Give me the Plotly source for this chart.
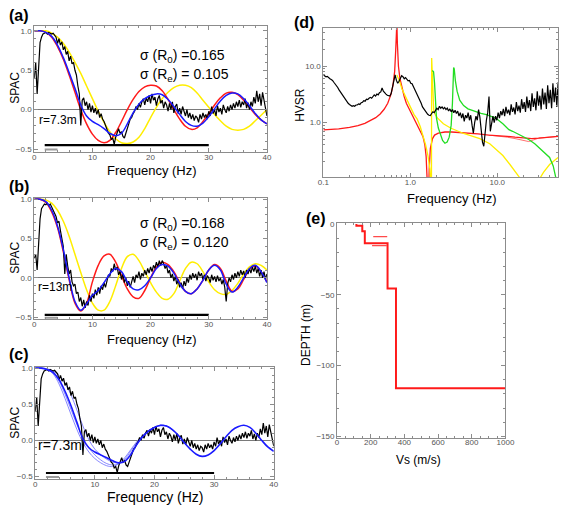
import numpy as np
import plotly.graph_objects as go

W, H = 568, 508
FONT = "Liberation Sans, Arial, sans-serif"
NARROW = "Liberation Sans Narrow, Arial Narrow, Liberation Sans, sans-serif"

# ---------------- SPAC data (panels a, b, c) ----------------
freq_model = list(range(0, 41))  # Hz

spac_a_red = [1.0, 1.0, 0.98, 0.92, 0.8, 0.64, 0.44, 0.22, 0.0, -0.18, -0.31, -0.39, -0.42, -0.39, -0.29,
              -0.15, 0.0, 0.13, 0.23, 0.29, 0.31, 0.3, 0.24, 0.13, 0.0, -0.12, -0.21, -0.25, -0.23, -0.15,
              -0.05, 0.06, 0.15, 0.21, 0.22, 0.19, 0.12, 0.03, -0.06, -0.13, -0.18]
spac_a_blue = [1.0, 1.0, 0.98, 0.93, 0.82, 0.66, 0.47, 0.27, 0.06, -0.08, -0.15, -0.19, -0.24, -0.3, -0.33,
               -0.3, -0.18, -0.04, 0.07, 0.14, 0.18, 0.2, 0.19, 0.13, 0.04, -0.06, -0.15, -0.2, -0.21, -0.17,
               -0.09, 0.01, 0.11, 0.18, 0.21, 0.2, 0.14, 0.05, -0.05, -0.13, -0.18]
spac_a_yellow = [1.0, 1.0, 1.0, 0.97, 0.92, 0.84, 0.73, 0.6, 0.46, 0.3, 0.14, -0.02, -0.16, -0.28, -0.37,
                 -0.42, -0.43, -0.41, -0.35, -0.24, -0.1, 0.03, 0.14, 0.22, 0.28, 0.31, 0.31, 0.28, 0.21, 0.12,
                 0.03, -0.06, -0.14, -0.21, -0.25, -0.26, -0.25, -0.21, -0.14, -0.07, 0.0]

spac_b_red = [1.0, 1.0, 0.96, 0.84, 0.64, 0.33, -0.02, -0.32, -0.42, -0.32, -0.05, 0.16, 0.28, 0.3, 0.2,
              0.03, -0.14, -0.24, -0.26, -0.16, 0.0, 0.14, 0.2, 0.17, 0.08, -0.06, -0.17, -0.2, -0.14, -0.03,
              0.1, 0.17, 0.12, -0.04, -0.17, -0.14, -0.02, 0.11, 0.15, 0.08, -0.05]
spac_b_blue = [1.0, 1.0, 0.97, 0.86, 0.66, 0.36, 0.0, -0.3, -0.41, -0.33, -0.22, -0.16, -0.06, 0.05, 0.12,
               0.08, -0.05, -0.14, -0.15, -0.1, 0.0, 0.12, 0.17, 0.15, 0.06, -0.07, -0.17, -0.2, -0.14, -0.03,
               0.1, 0.16, 0.1, -0.08, -0.18, -0.12, 0.0, 0.12, 0.16, 0.08, -0.06]
spac_b_yellow = [1.0, 1.0, 0.99, 0.95, 0.86, 0.72, 0.53, 0.3, 0.07, -0.15, -0.32, -0.41, -0.41, -0.3, -0.1,
                 0.12, 0.27, 0.3, 0.22, 0.08, -0.06, -0.18, -0.26, -0.27, -0.2, -0.04, 0.12, 0.2, 0.18, 0.08,
                 -0.05, -0.15, -0.2, -0.21, -0.16, -0.07, 0.05, 0.14, 0.18, 0.16, 0.1]

spac_c_blue = [1.0, 1.0, 0.98, 0.94, 0.84, 0.68, 0.48, 0.25, 0.02, -0.1, -0.16, -0.2, -0.24, -0.28, -0.31,
               -0.29, -0.2, -0.06, 0.05, 0.13, 0.18, 0.21, 0.2, 0.15, 0.07, -0.03, -0.12, -0.19, -0.22, -0.2,
               -0.14, -0.05, 0.05, 0.14, 0.19, 0.21, 0.18, 0.1, 0.0, -0.09, -0.15]
freq_thin = list(range(0, 25))
spac_c_thin1 = [1.0, 1.0, 0.99, 0.96, 0.9, 0.79, 0.63, 0.42, 0.2, 0.01, -0.12, -0.2, -0.26, -0.3, -0.31,
                -0.28, -0.18, -0.06, 0.05, 0.13, 0.18, 0.21, 0.2, 0.15, 0.07]
spac_c_thin2 = [1.0, 1.0, 0.98, 0.92, 0.78, 0.58, 0.36, 0.15, -0.03, -0.16, -0.25, -0.31, -0.35, -0.36, -0.32,
                -0.24, -0.13, -0.02, 0.07, 0.14, 0.18, 0.21, 0.2, 0.15, 0.07]
spac_c_thin3 = [1.0, 1.0, 0.98, 0.93, 0.82, 0.64, 0.43, 0.22, 0.04, -0.1, -0.2, -0.27, -0.32, -0.34, -0.32,
                -0.26, -0.15, -0.03, 0.06, 0.13, 0.18, 0.2, 0.2, 0.15, 0.07]

# observed SPAC, 0.25 Hz sampling from 0 Hz
spac_obs_r73 = [0.4, 0.6, 0.2, 0.6, 0.85, 0.92, 0.96, 0.97, 0.98, 0.96, 0.98, 0.97, 0.96, 0.97, 0.94, 0.92,
                0.84, 0.9, 0.82, 0.86, 0.76, 0.8, 0.7, 0.74, 0.62, 0.68, 0.58, 0.6, 0.5, 0.44, 0.3, 0.2,
                -0.2, 0.12, 0.15, 0.05, 0.1, 0.0, 0.08, -0.03, 0.05, -0.04, 0.02, -0.06, 0.0, -0.1, -0.05, -0.12,
                -0.15, -0.2, -0.25, -0.3, -0.32, -0.38, -0.36, -0.44, -0.35, -0.3, -0.24, -0.3, -0.28, -0.34, -0.36, -0.3,
                -0.22, -0.18, -0.12, -0.1, -0.05, -0.02, 0.04, 0.0, 0.08, 0.03, 0.1, 0.14, 0.06, 0.15, 0.1, 0.18,
                0.08, 0.2, 0.12, 0.16, 0.05, 0.14, 0.18, 0.08, 0.12, 0.02, 0.1, 0.06, -0.02, 0.08, 0.0, 0.1,
                -0.04, 0.04, 0.07, -0.05, 0.02, -0.06, 0.04, -0.03, -0.08, 0.0, -0.1, -0.04, -0.12, -0.06, -0.14, -0.08,
                -0.1, -0.16, -0.06, -0.12, -0.04, -0.1, -0.06, -0.12, -0.02, -0.08, 0.04, -0.05, 0.0, -0.08, 0.05, -0.03,
                0.02, -0.06, 0.06, 0.0, -0.04, 0.04, -0.02, 0.06, 0.0, 0.08, 0.02, 0.1, 0.04, 0.12, 0.03, 0.1,
                0.06, 0.14, 0.02, 0.09, 0.0, 0.1, 0.04, 0.16, 0.08, 0.24, 0.1, 0.2, 0.05, 0.22, 0.12, 0.02,
                -0.08]
spac_obs_r13 = [0.25, 0.3, 0.1, 0.45, 0.75, 0.88, 0.92, 0.94, 0.93, 0.95, 0.92, 0.94, 0.9, 0.86, 0.82, 0.78,
                0.7, 0.72, 0.6, 0.52, 0.4, 0.05, 0.3, 0.15, 0.05, 0.1, -0.05, -0.1, -0.08, -0.2, -0.18, -0.3,
                -0.25, -0.36, -0.28, -0.38, -0.3, -0.35, -0.22, -0.3, -0.2, -0.26, -0.15, -0.22, -0.12, -0.2, -0.1, -0.15,
                -0.06, -0.12, -0.02, 0.04, 0.02, 0.12, 0.08, 0.18, 0.1, 0.14, 0.04, 0.08, -0.02, 0.05, -0.06, 0.0,
                -0.1, -0.04, -0.12, -0.05, 0.02, -0.06, 0.04, 0.0, 0.08, -0.02, 0.06, 0.02, 0.1, 0.04, 0.12, 0.06,
                0.14, 0.08, 0.16, 0.12, 0.2, 0.14, 0.22, 0.16, 0.22, 0.18, 0.12, 0.16, 0.06, 0.1, 0.0, 0.05,
                -0.04, 0.02, -0.08, -0.02, -0.12, -0.06, -0.14, -0.04, -0.1, 0.0, -0.06, 0.04, -0.02, 0.06, 0.0, 0.05,
                -0.03, 0.08, 0.02, 0.06, -0.02, 0.04, -0.04, 0.03, 0.0, -0.06, 0.04, -0.03, 0.02, -0.05, 0.03, -0.04,
                0.0, -0.08, -0.02, -0.12, -0.3, -0.08, 0.0, -0.05, 0.04, -0.02, 0.06, 0.0, 0.08, 0.02, 0.1, 0.04,
                0.09, 0.0, 0.1, 0.05, 0.12, 0.06, 0.14, 0.08, 0.15, 0.06, 0.12, 0.02, 0.1, 0.0, 0.08, -0.02,
                0.05]
freq_obs_step = 0.25

fit_band = [1.8, 30.0]
bar_level_ac = -0.45
bar_level_b = -0.47
hv_band = [1.8, 4.0]
hv_band_level = -0.505

# ---------------- HVSR data (panel d) ----------------
hv_logf_lo, hv_logf_hi = -1.0, 1.7
hvsr_obs = [7.0, 6.8, 6.5, 6.6, 6.2, 6.0, 5.8, 5.6, 5.2, 4.9,
            4.5, 4.2, 3.8, 3.5, 3.2, 2.9, 2.7, 2.5, 2.35, 2.2,
            2.1, 2.0, 1.95, 2.0, 1.95, 2.05, 2.05, 2.15, 2.1, 2.25,
            2.3, 2.45, 2.4, 2.6, 2.55, 2.7, 2.8, 2.7, 2.95, 3.1,
            2.95, 3.2, 3.1, 3.4, 3.5, 4.1, 3.6, 3.3, 3.2, 3.05,
            3.0, 2.95, 3.3, 4.4, 6.0, 7.0, 5.6, 5.0, 5.4, 6.2,
            6.8, 6.5, 6.0, 6.3, 5.8, 5.5, 5.6, 5.0, 4.9, 4.4,
            4.0, 3.6, 3.2, 2.9, 2.5, 2.2, 1.9, 1.75, 1.6, 1.5,
            1.4, 1.35, 1.33, 1.45, 1.55, 1.5, 1.65, 1.8, 1.7, 1.95,
            1.8, 1.9, 1.75, 1.85, 1.7, 1.8, 1.6, 1.75, 1.55, 1.7,
            1.5, 1.65, 1.45, 1.6, 1.3, 1.5, 1.2, 1.45, 1.05, 1.35,
            1.2, 1.5, 1.1, 1.35, 0.9, 0.65, 1.0, 1.3, 1.1, 1.7,
            1.25, 0.7, 0.45, 0.38, 0.8, 1.1, 1.5, 2.9, 0.7, 0.9,
            1.3, 1.0, 1.3, 1.1, 1.5, 1.2, 1.6, 1.35, 1.75, 1.3,
            1.9, 1.45, 1.7, 1.35, 2.1, 1.55, 1.85, 1.4, 2.3, 1.6,
            2.0, 1.5, 2.6, 1.75, 2.3, 1.55, 2.9, 1.8, 2.5, 1.6,
            3.3, 1.9, 2.7, 1.65, 3.6, 2.0, 3.0, 1.7, 4.0, 2.1,
            3.4, 1.75, 4.6, 2.2, 3.8, 1.8, 5.0, 2.3, 4.2, 1.9,
            5.2]

hv_red_f = [0.1, 0.15, 0.2, 0.25, 0.3, 0.35, 0.4, 0.45, 0.5, 0.55, 0.6, 0.63, 0.66, 0.68, 0.69, 0.70, 0.71,
            0.73, 0.76, 0.8, 0.85, 0.9, 1.0, 1.1, 1.2, 1.3, 1.4, 1.47, 1.52, 1.56, 1.58, 1.62, 1.65, 1.7, 1.8,
            1.9, 2.1, 2.5, 3, 4, 5, 6, 8, 10, 13, 16, 20, 25, 30, 40, 50]
hv_red = [0.74, 0.77, 0.82, 0.88, 0.97, 1.08, 1.22, 1.42, 1.72, 2.2, 3.2, 4.5, 8, 20, 60, 60, 25,
          10, 6, 4.0, 2.9, 2.2, 1.6, 1.2, 0.95, 0.75, 0.56, 0.4, 0.25, 0.1, 0.05, 0.05, 0.15, 0.35, 0.52,
          0.6, 0.65, 0.68, 0.68, 0.66, 0.65, 0.63, 0.6, 0.59, 0.57, 0.55, 0.53, 0.52, 0.53, 0.55, 0.57]
hv_red2_f = [8, 10, 13, 16, 20, 23, 26, 30, 40, 50]
hv_red2 = [0.6, 0.58, 0.55, 0.52, 0.48, 0.46, 0.49, 0.53, 0.55, 0.57]
hv_yel_f = [0.7, 0.75, 0.8, 0.9, 1.0, 1.1, 1.2, 1.3, 1.4, 1.5, 1.6, 1.68, 1.72, 1.75, 1.76, 1.78, 1.82, 1.86,
            1.95, 2.06, 2.4, 2.9, 4.1, 6.3, 8.2, 11.6, 14, 17.8, 19, 22, 26, 30, 34, 40, 48, 50]
hv_yel = [7.0, 5.5, 4.0, 2.6, 1.9, 1.4, 1.15, 0.85, 0.6, 0.4, 0.25, 0.15, 0.08, 0.05, 14, 8, 3.5, 1.6,
          1.35, 1.2, 0.95, 0.8, 0.64, 0.52, 0.42, 0.26, 0.18, 0.11, 0.095, 0.06, 0.06, 0.095, 0.13, 0.18, 0.23, 0.24]
hv_grn_f = [1.79, 1.85, 1.9, 1.95, 2.0, 2.1, 2.2, 2.35, 2.5, 2.65, 2.8, 2.95, 3.05, 3.15, 3.2, 3.3, 3.45, 3.7,
            4.1, 4.6, 5.3, 6.5, 7.5, 9.6, 11.6, 13.6, 15, 19, 23, 27, 32, 36, 40, 44, 47, 50]
hv_grn = [8.4, 8.0, 5.0, 2.5, 1.2, 0.8, 0.62, 0.48, 0.43, 0.45, 0.55, 0.9, 2.2, 9.5, 9.0, 5.5, 3.6, 2.5,
          2.0, 1.75, 1.6, 1.45, 1.38, 1.2, 0.95, 0.75, 0.7, 0.58, 0.5, 0.42, 0.33, 0.28, 0.24, 0.17, 0.1, 0.07]

# ---------------- Vs profile (panel e) ----------------
vs_layers = [115, 150, 165, 300, 350, 1000]      # m/s
depth_tops = [0, 1.2, 5.0, 13.5, 45.5, 116.0]    # m
alt_depths = [8.9, 15.2]
alt_vs_lo = [215, 208]
alt_vs_hi = [298, 296]

# ---------------- colours ----------------
RED = "#ff1a1a"
BLUE = "#1a1aff"
YEL = "#ffee00"
GRN = "#22dd22"
THIN_BLUE = "#7a7aff"
AXC = "#8c8c8c"
TICKF = dict(size=8, color="#555555", family=FONT)


def dom_x(a, b):
    return [a / W, b / W]


def dom_y(top, bottom):
    return [1 - bottom / H, 1 - top / H]


fig = go.Figure()

freq_obs_a = [i * freq_obs_step for i in range(len(spac_obs_r73))]
freq_obs_b = [i * freq_obs_step for i in range(len(spac_obs_r13))]


def add_line(x, y, color, width, xa, ya, shape="linear"):
    fig.add_trace(go.Scatter(x=x, y=y, mode="lines", xaxis=xa, yaxis=ya, showlegend=False,
                             line=dict(color=color, width=width, shape=shape),
                             hoverinfo="skip"))


# panel a
add_line(freq_model, spac_a_yellow, YEL, 1.5, "x", "y", "spline")
add_line(freq_model, spac_a_red, RED, 1.5, "x", "y", "spline")
add_line(freq_obs_a, spac_obs_r73, "black", 1.2, "x", "y")
add_line(freq_model, spac_a_blue, BLUE, 1.5, "x", "y", "spline")
add_line(hv_band, [hv_band_level] * 2, "#9a9a9a", 2, "x", "y")
add_line(fit_band, [bar_level_ac] * 2, "black", 2.2, "x", "y")

# panel b
add_line(freq_model, spac_b_yellow, YEL, 1.5, "x2", "y2", "spline")
add_line(freq_model, spac_b_red, RED, 1.5, "x2", "y2", "spline")
add_line(freq_obs_b, spac_obs_r13, "black", 1.2, "x2", "y2")
add_line(freq_model, spac_b_blue, BLUE, 1.5, "x2", "y2", "spline")
add_line(hv_band, [hv_band_level] * 2, "#9a9a9a", 2, "x2", "y2")
add_line(fit_band, [bar_level_b] * 2, "black", 2.2, "x2", "y2")

# panel c
for th in (spac_c_thin1, spac_c_thin2, spac_c_thin3):
    add_line(freq_thin, th, THIN_BLUE, 0.9, "x3", "y3", "spline")
add_line(freq_obs_a, spac_obs_r73, "black", 1.2, "x3", "y3")
add_line(freq_model, spac_c_blue, BLUE, 1.6, "x3", "y3", "spline")
add_line(hv_band, [hv_band_level] * 2, "#9a9a9a", 2, "x3", "y3")
add_line(fit_band, [bar_level_ac] * 2, "black", 2.2, "x3", "y3")

# panel d
hv_freq = list(10 ** np.linspace(hv_logf_lo, hv_logf_hi, len(hvsr_obs)))
add_line(hv_red2_f, hv_red2, "#ff7070", 1.0, "x4", "y4")
add_line(hv_red_f, hv_red, RED, 1.3, "x4", "y4")
add_line(hv_yel_f, hv_yel, YEL, 1.3, "x4", "y4")
add_line(hv_grn_f, hv_grn, GRN, 1.3, "x4", "y4")
add_line(hv_freq, hvsr_obs, "black", 1.2, "x4", "y4")

# panel e
add_line(vs_layers, [-d for d in depth_tops], RED, 2.0, "x5", "y5", "vh")
for d, lo, hi in zip(alt_depths, alt_vs_lo, alt_vs_hi):
    add_line([lo, hi], [-d, -d], "#ff4a4a", 1.3, "x5", "y5")

base_ax = dict(showline=True, linecolor=AXC, linewidth=1, mirror="allticks", ticks="inside",
               ticklen=4, tickcolor=AXC, tickwidth=1, showgrid=False, zeroline=False, tickfont=TICKF)
xlab = dict(ticklabelstandoff=-3)
minor_f = dict(ticks="inside", ticklen=2, tickcolor=AXC, dtick=2, showgrid=False)
minor_s = dict(ticks="inside", ticklen=2, tickcolor=AXC, dtick=0.1, showgrid=False)
spac_y_ticks = dict(tickvals=[-0.5, 0, 0.5, 1.0], ticktext=["\u22120.5", "0.0", "0.5", "1.0"])
f_ticks = dict(tickvals=[0, 10, 20, 30, 40])
log_minor = [0.2, 0.3, 0.4, 0.5, 0.6, 0.7, 0.8, 0.9, 2, 3, 4, 5, 6, 7, 8, 9, 20, 30, 40]

layout = dict(
    width=W, height=H, margin=dict(l=0, r=0, t=0, b=0), paper_bgcolor="white", plot_bgcolor="white",
    font=dict(family=FONT, color="black"), showlegend=False,
    xaxis=dict(base_ax, domain=dom_x(29, 268), range=[0, 40], minor=minor_f, **f_ticks, **xlab),
    yaxis=dict(base_ax, domain=dom_y(23, 151), range=[-0.54, 1.065], minor=minor_s,
               zeroline=True, zerolinecolor="#7a7a7a", zerolinewidth=1, **spac_y_ticks),
    xaxis2=dict(base_ax, domain=dom_x(29, 268), range=[0, 40], minor=minor_f, anchor="y2", **f_ticks, **xlab),
    yaxis2=dict(base_ax, domain=dom_y(197, 320), range=[-0.525, 1.02], minor=minor_s, anchor="x2",
                zeroline=True, zerolinecolor="#7a7a7a", zerolinewidth=1, **spac_y_ticks),
    xaxis3=dict(base_ax, domain=dom_x(30, 275), range=[0, 40], minor=minor_f, anchor="y3", **f_ticks, **xlab),
    yaxis3=dict(base_ax, domain=dom_y(368, 482), range=[-0.537, 1.02], minor=minor_s, anchor="x3",
                zeroline=True, zerolinecolor="#7a7a7a", zerolinewidth=1, **spac_y_ticks),
    xaxis4=dict(base_ax, domain=dom_x(326, 567), type="log", range=[-1, 1.699], anchor="y4",
                tickvals=[0.1, 1, 10], ticktext=["0.1", "1.0", "10.0"], **xlab,
                minor=dict(ticks="inside", ticklen=2, tickcolor=AXC, showgrid=False, tickvals=log_minor)),
    yaxis4=dict(base_ax, domain=dom_y(25, 176), type="log", range=[-0.965, 1.684], anchor="x4",
                tickvals=[1, 10], ticktext=["1.0", "10.0"],
                minor=dict(ticks="inside", ticklen=2, tickcolor=AXC, showgrid=False, tickvals=log_minor)),
    xaxis5=dict(base_ax, domain=dom_x(340, 513), range=[0, 1000], anchor="y5",
                tickvals=[0, 200, 400, 600, 800, 1000], **xlab,
                minor=dict(ticks="inside", ticklen=2, tickcolor=AXC, dtick=50, showgrid=False)),
    yaxis5=dict(base_ax, domain=dom_y(223, 440), range=[-151, 0.5], anchor="x5",
                tickvals=[0, -50, -100, -150], ticktext=["0", "\u221250", "\u2212100", "\u2212150"],
                minor=dict(ticks="inside", ticklen=2, tickcolor=AXC, dtick=10, showgrid=False)),
)
fig.update_layout(**layout)


def ann(text, x, y, size, bold=False, xanchor="center", angle=0, color="black", family=FONT):
    if bold:
        text = "<b>" + text + "</b>"
    fig.add_annotation(text=text, x=x / W, y=1 - y / H, xref="paper", yref="paper", showarrow=False,
                       xanchor=xanchor, yanchor="middle", textangle=angle,
                       font=dict(size=size, color=color, family=family))


# panel labels
ann("(a)", 13, 13, 16, bold=True)
ann("(b)", 13, 186, 16, bold=True)
ann("(c)", 13, 356, 16, bold=True)
ann("(d)", 306, 20, 16, bold=True)
ann("(e)", 318, 218, 16, bold=True)

# sigma annotations
ann("\u03c3 (R<sub>0</sub>) =0.165", 136, 54, 14, xanchor="left", family=NARROW)
ann("\u03c3 (R<sub>e</sub>) = 0.105", 136, 73, 14, xanchor="left", family=NARROW)
ann("\u03c3 (R<sub>0</sub>) =0.168", 136, 224, 14, xanchor="left", family=NARROW)
ann("\u03c3 (R<sub>e</sub>) = 0.120", 136, 243, 14, xanchor="left", family=NARROW)

# radius labels
ann("r=7.3m", 32, 118, 12, xanchor="left")
ann("r=13m", 31, 287, 12, xanchor="left")
ann("r=7.3m", 31, 447, 14, xanchor="left")

# axis titles
ann("SPAC", 9, 86, 12, angle=-90)
ann("SPAC", 9, 258, 12, angle=-90)
ann("SPAC", 9, 425, 12, angle=-90)
ann("Frequency (Hz)", 150, 169, 13)
ann("Frequency (Hz)", 150, 341, 13)
ann("Frequency (Hz)", 153, 500, 14)
ann("HVSR", 302, 103, 12, angle=-90)
ann("Frequency (Hz)", 458, 198, 13)
ann("DEPTH (m)", 308, 336, 12, angle=-90)
ann("Vs (m/s)", 424, 462, 12)

fig.write_html("out.html", config={"displayModeBar": False},
               post_script="document.body.style.margin='0px';document.body.style.overflow='hidden';")
